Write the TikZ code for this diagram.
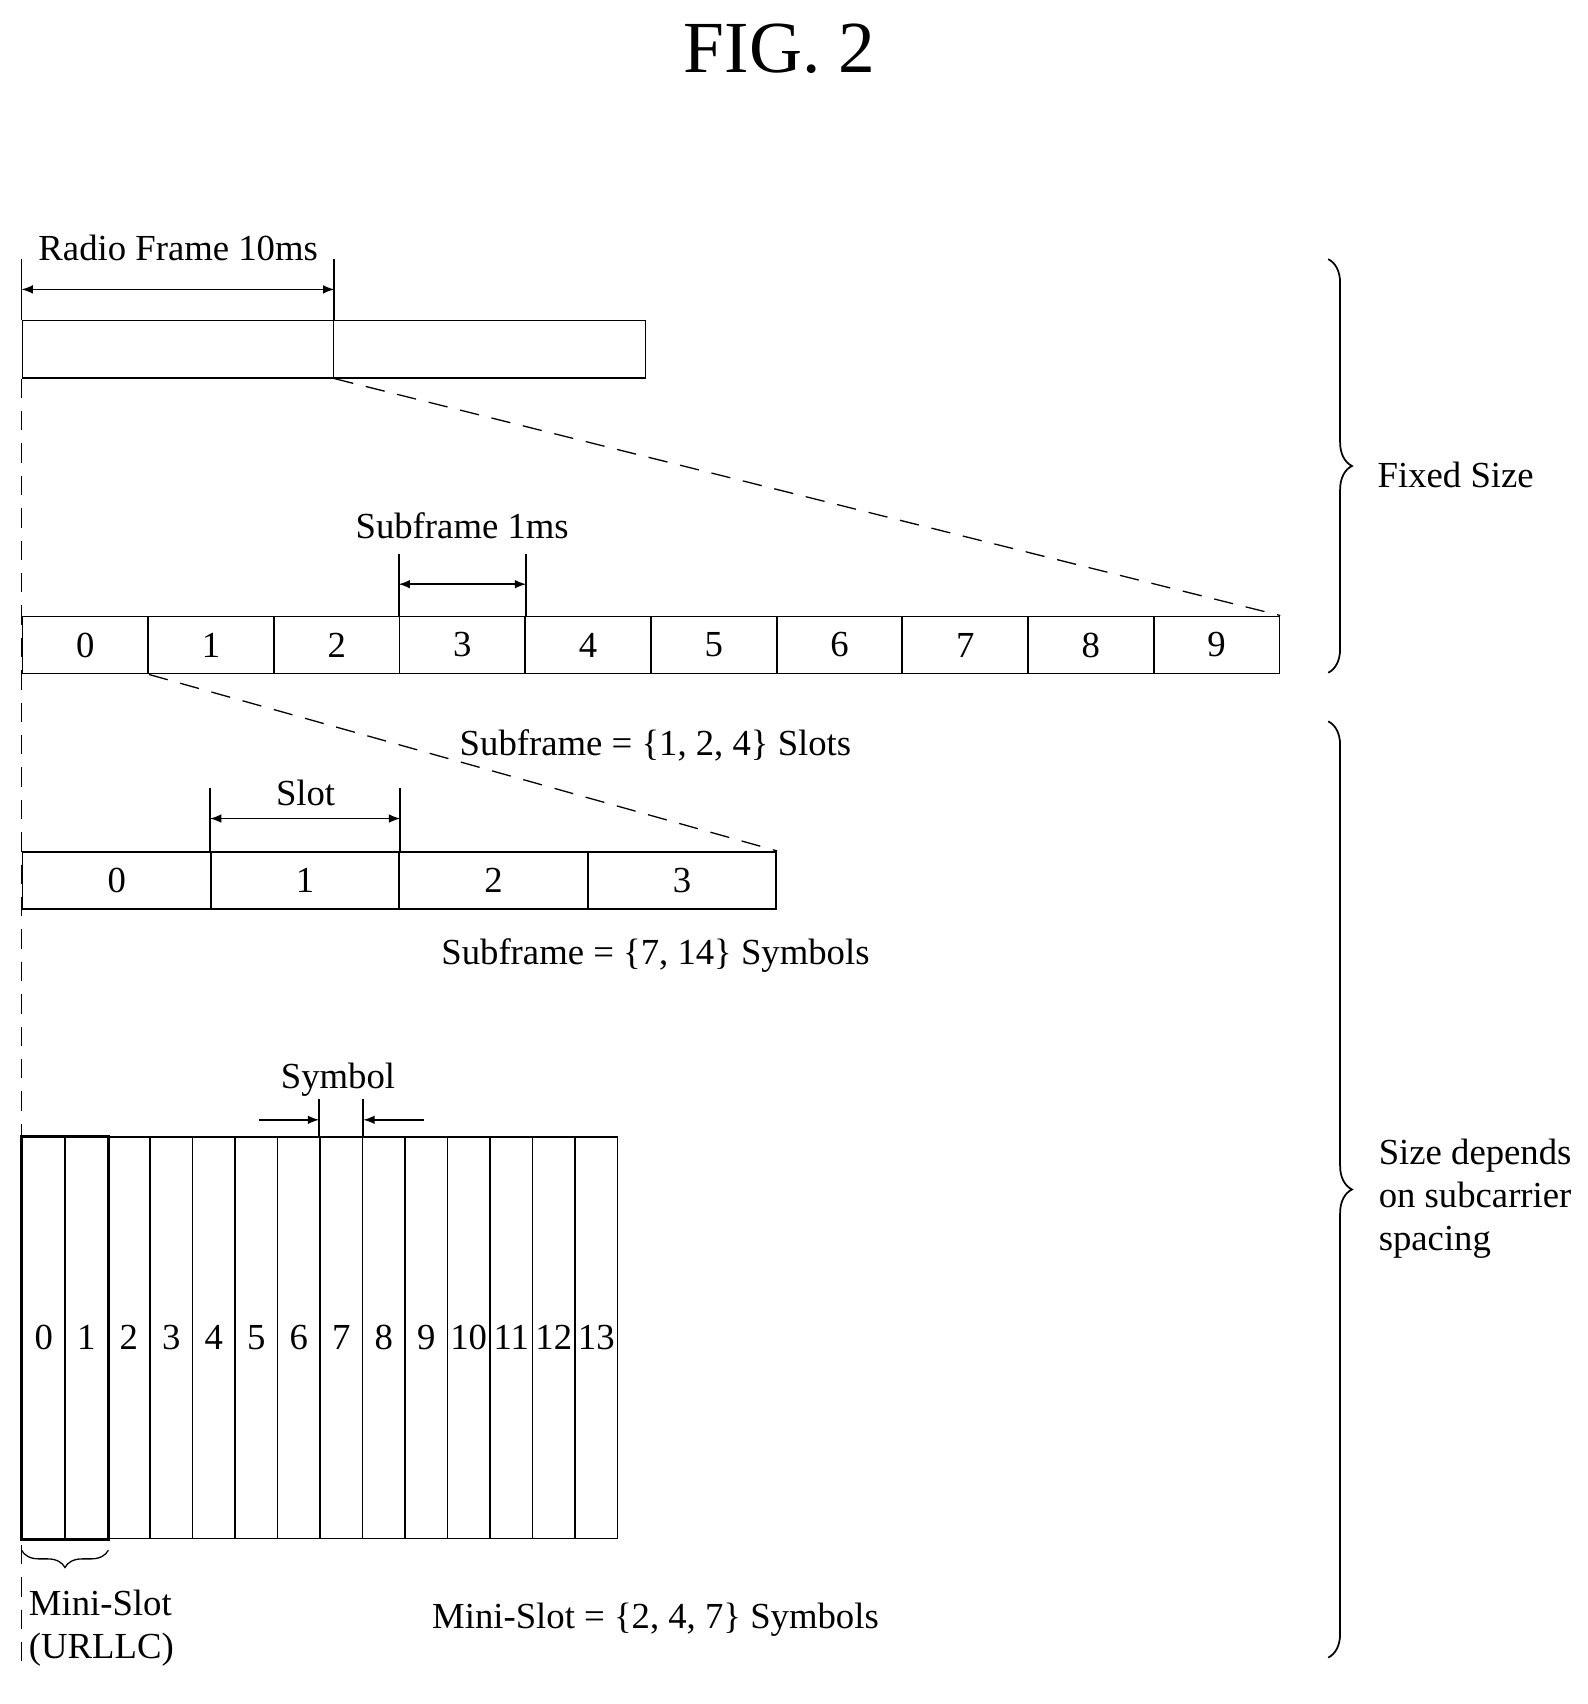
\documentclass[tikz,border=0pt]{standalone}
\usepackage{fontspec}
\setmainfont{Liberation Serif}
\usetikzlibrary{decorations.pathreplacing}
\begin{document}
\begin{tikzpicture}[x=0.5pt,y=-0.5pt,line width=0.8pt,
  lbl/.style={font=\fontsize{17}{20}\selectfont,inner sep=0pt},
  cell/.style={draw,minimum height=26.5pt,inner sep=0pt,font=\fontsize{17}{20}\selectfont},
  dim/.style={<->,>=latex},
  dsh/.style={dash pattern=on 9pt off 6pt},
  br/.style={decorate,decoration={brace,amplitude=11pt}}]
\useasboundingbox (0,0) rectangle (1470,1578);
\node[lbl,font=\fontsize{34}{36}\selectfont] (title) at (722,45) {FIG. 2};
% radio frame
\node[cell,minimum width=144pt,anchor=north west] (rf0) at (20,296) {};
\node[cell,minimum width=144.5pt,anchor=north west] (rf1) at (308,296) {};
\draw (rf0.north west) -- ++(0,-56) coordinate (ra);
\draw (rf0.north east) -- ++(0,-56) coordinate (rb);
\draw[dim] ([yshift=-14pt]ra) -- ([yshift=-14pt]rb);
\node[lbl] (rft) at (165,230) {Radio Frame 10ms};
% subframes
\foreach \i in {0,...,9}{
  \node[cell,minimum width=58.2pt,anchor=north west] (s\i) at (20+116.4*\i,570) {\i};}
\draw[dsh,line width=0.6pt] (rf0.south east) -- (s9.north east);
\draw (s3.north west) -- ++(0,-57) coordinate (sa);
\draw (s3.north east) -- ++(0,-57) coordinate (sb);
\draw[dim] ([yshift=-14pt]sa) -- ([yshift=-14pt]sb);
\node[lbl] (sft) at (428,487) {Subframe 1ms};
\node[lbl] (sl1) at (607,690) {Subframe = \{1, 2, 4\} Slots};
% slots
\foreach \i in {0,...,3}{
  \node[cell,minimum width=87.25pt,anchor=north west] (t\i) at (20+174.5*\i,788) {\i};}
\draw[dsh,line width=0.6pt] (s0.south east) -- (t3.north east);
\draw (t1.north west) -- ++(0,-58) coordinate (ta);
\draw (t1.north east) -- ++(0,-58) coordinate (tb);
\draw[dim] ([yshift=-14pt]ta) -- ([yshift=-14pt]tb);
\node[lbl] (slt) at (283,734) {Slot};
\node[lbl] (sl2) at (607,885) {Subframe = \{7, 14\} Symbols};
% symbols
\foreach \i in {0,...,13}{
  \node[cell,minimum width=19.68pt,minimum height=186pt,anchor=north west] (y\i) at (20+39.36*\i,1052) {\i};}
\draw[line width=1.4pt] (y0.north west) rectangle (y1.south east);
\draw (y7.north west) -- ++(0,-34) coordinate (ya);
\draw (y7.north east) -- ++(0,-34) coordinate (yb);
\draw[->,>=latex] ([xshift=-28pt,yshift=-9.5pt]ya) -- ([yshift=-9.5pt]ya);
\draw[->,>=latex] ([xshift=28pt,yshift=-9.5pt]yb) -- ([yshift=-9.5pt]yb);
\node[lbl] (syt) at (313,1000) {Symbol};
\draw[br,decoration={amplitude=8pt},line width=0.6pt] ([yshift=-5pt]y1.south east) -- ([yshift=-5pt]y0.south west) coordinate (mb);
\node[lbl,anchor=west,align=left] (mst) at (26,1508) {Mini-Slot\\(URLLC)};
\node[lbl] (sl3) at (607,1500) {Mini-Slot = \{2, 4, 7\} Symbols};
% left dashed line
\coordinate (le) at (20,1545);
\draw[dsh,line width=0.6pt] (rf0.south west) -- (le);
% right braces
\coordinate (b1) at (1230,240); \coordinate (b2) at (1230,623);
\draw[br] (b1) -- (b2);
\node[lbl,anchor=west] (fs) at (1275,440) {Fixed Size};
\coordinate (b3) at (1230,668); \coordinate (b4) at (1230,1535);
\draw[br] (b3) -- (b4);
\node[lbl,anchor=west,align=left] (sd) at (1276,1110) {Size depends\\on subcarrier\\spacing};
\end{tikzpicture}
\end{document}
